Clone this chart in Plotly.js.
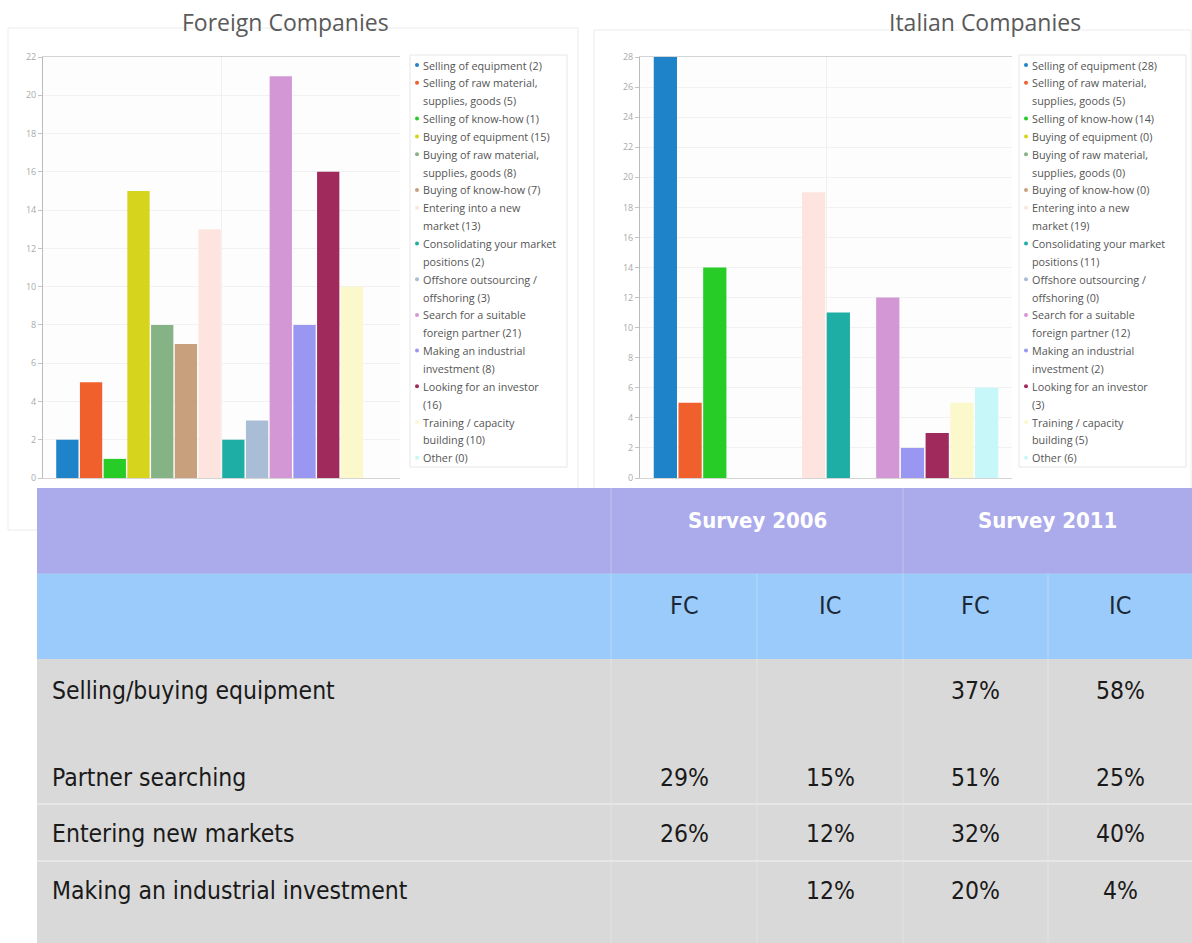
<!DOCTYPE html>
<html><head><meta charset="utf-8">
<script src="https://cdn.plot.ly/plotly-3.0.1.min.js"></script>
<style>html,body{margin:0;padding:0;background:#fff;}#chart{width:1192px;height:943px;}</style>
</head><body><div id="chart"></div>
<script>
// ---------- data ----------
const chartTitles = ['Foreign Companies', 'Italian Companies'];
const seriesLabels = [
  'Selling of equipment',
  'Selling of raw material,<br>supplies, goods',
  'Selling of know-how',
  'Buying of equipment',
  'Buying of raw material,<br>supplies, goods',
  'Buying of know-how',
  'Entering into a new<br>market',
  'Consolidating your market<br>positions',
  'Offshore outsourcing /<br>offshoring',
  'Search for a suitable<br>foreign partner',
  'Making an industrial<br>investment',
  'Looking for an investor<br>',
  'Training / capacity<br>building',
  'Other'
];
const seriesColors = ['#1f83c9','#f0602c','#27cc27','#d6d41c','#86b386','#c9a07e','#fde4df',
                      '#1eaea6','#a9bdd6','#d497d6','#9a97f2','#a02a5c','#fbf8cc','#c8f7f9'];
const foreignValues = [2, 5, 1, 15, 8, 7, 13, 2, 3, 21, 8, 16, 10, 0];
const italianValues = [28, 5, 14, 0, 0, 0, 19, 11, 0, 12, 2, 3, 5, 6];

const tableRowLabels = ['Selling/buying equipment', 'Partner searching', 'Entering new markets', 'Making an industrial investment'];
const surveyHeaders = ['Survey 2006', 'Survey 2011'];
const subHeaders = ['FC', 'IC', 'FC', 'IC'];
const fc2006 = [null, 29, 26, null];
const ic2006 = [null, 15, 12, 12];
const fc2011 = [37, 51, 32, 20];
const ic2011 = [58, 25, 40, 4];

// ---------- layout helpers ----------
const W = 1192, H = 943;
const X = p => p / W;
const Y = p => 1 - p / H;

const traces = [];
const annotations = [];
const shapes = [];

// panels
shapes.push({type:'rect', xref:'paper', yref:'paper', x0:X(8), x1:X(578), y0:Y(530), y1:Y(28),
  line:{color:'#ececec', width:1}, fillcolor:'rgba(0,0,0,0)', layer:'below'});
shapes.push({type:'rect', xref:'paper', yref:'paper', x0:X(594), x1:X(1191), y0:Y(530), y1:Y(30),
  line:{color:'#ececec', width:1}, fillcolor:'rgba(0,0,0,0)', layer:'below'});

const charts = [
  {values: foreignValues, xa:'x', ya:'y', legendLeft:410, legendRight:567, titleX:285},
  {values: italianValues, xa:'x2', ya:'y2', legendLeft:1019, legendRight:1186, titleX:985}
];

charts.forEach((c, ci) => {
  c.values.forEach((v, i) => {
    const plain = seriesLabels[i].replace('<br>', ' ').trim();
    traces.push({type:'bar', x:['all'], y:[v], xaxis:c.xa, yaxis:c.ya,
      name: plain + ' (' + v + ')', showlegend:false,
      marker:{color:seriesColors[i], line:{width:0}},
      hovertemplate: plain + ': %{y}<extra></extra>'});
  });
  // title
  annotations.push({xref:'paper', yref:'paper', x:X(c.titleX), y:Y(22), xanchor:'center', yanchor:'middle',
    text:chartTitles[ci], showarrow:false, font:{family:'Open Sans, sans-serif', size:23, color:'#5a5a5a'}});
  // legend box
  shapes.push({type:'rect', xref:'paper', yref:'paper', x0:X(c.legendLeft), x1:X(c.legendRight),
    y0:Y(467), y1:Y(55), line:{color:'#e6e6e6', width:1}, fillcolor:'#ffffff', layer:'above'});
  let line = 0;
  const step = 17.85, firstY = 65;
  c.values.forEach((v, i) => {
    const lab = seriesLabels[i];
    const full = lab.endsWith('<br>') ? lab + '(' + v + ')' : lab + ' (' + v + ')';
    const parts = full.split('<br>');
    const ly0 = firstY + line * step;
    shapes.push({type:'circle', xref:'paper', yref:'paper', x0:X(c.legendLeft+5), x1:X(c.legendLeft+9),
      y0:Y(ly0+2), y1:Y(ly0-2), fillcolor:seriesColors[i], line:{width:0}, layer:'above'});
    parts.forEach(p => {
      annotations.push({xref:'paper', yref:'paper', x:X(c.legendLeft+11), y:Y(firstY + line*step),
        xanchor:'left', yanchor:'middle', text:p, showarrow:false,
        font:{family:'Open Sans, sans-serif', size:10.8, color:'#555'}});
      line++;
    });
  });
});

// ---------- table ----------
const colEdges = [37, 611, 757, 903, 1048, 1192];
const tTop = 488, hMid = 574, hBot = 659, tBot = 943;
shapes.push({type:'rect', xref:'paper', yref:'paper', x0:X(37), x1:X(1192), y0:Y(hMid), y1:Y(tTop),
  fillcolor:'#ababeb', line:{width:0}, layer:'above'});
shapes.push({type:'rect', xref:'paper', yref:'paper', x0:X(37), x1:X(1192), y0:Y(hBot), y1:Y(hMid),
  fillcolor:'#9acbfa', line:{width:0}, layer:'above'});
shapes.push({type:'rect', xref:'paper', yref:'paper', x0:X(37), x1:X(1192), y0:Y(tBot), y1:Y(hBot),
  fillcolor:'#d9d9d9', line:{width:0}, layer:'above'});
[611, 903].forEach(x => shapes.push({type:'line', xref:'paper', yref:'paper', x0:X(x), x1:X(x), y0:Y(hMid), y1:Y(tTop),
  line:{color:'#c3c3f1', width:1}, layer:'above'}));
[611, 757, 903, 1048].forEach(x => {
  shapes.push({type:'line', xref:'paper', yref:'paper', x0:X(x), x1:X(x), y0:Y(hBot), y1:Y(hMid),
    line:{color:'#b5dafc', width:1}, layer:'above'});
  shapes.push({type:'line', xref:'paper', yref:'paper', x0:X(x), x1:X(x), y0:Y(tBot), y1:Y(hBot),
    line:{color:'#e3e3e3', width:1}, layer:'above'});
});
shapes.push({type:'line', xref:'paper', yref:'paper', x0:X(37), x1:X(1192), y0:Y(hMid), y1:Y(hMid),
  line:{color:'#a9cdf6', width:1}, layer:'above'});
const rowCenters = [690, 777, 833, 890];
const rowSeps = [804, 861];
rowSeps.forEach(y => shapes.push({type:'line', xref:'paper', yref:'paper', x0:X(37), x1:X(1192), y0:Y(y), y1:Y(y),
  line:{color:'#e6e6e6', width:2}, layer:'above'}));

const narrow = 'Liberation Sans Narrow, Arial Narrow, DejaVu Sans Condensed, sans-serif';
surveyHeaders.forEach((t, k) => {
  const cx = (colEdges[1 + 2*k] + colEdges[3 + 2*k]) / 2;
  annotations.push({xref:'paper', yref:'paper', x:X(cx), y:Y(520), xanchor:'center', yanchor:'middle',
    text:'<b>' + t + '</b>', showarrow:false, font:{family:narrow, size:22, color:'#ffffff'}});
});
subHeaders.forEach((t, k) => {
  const cx = (colEdges[1 + k] + colEdges[2 + k]) / 2;
  annotations.push({xref:'paper', yref:'paper', x:X(cx), y:Y(605), xanchor:'center', yanchor:'middle',
    text:t, showarrow:false, font:{family:narrow, size:25, color:'#1c2838'}});
});
const valueCols = [fc2006, ic2006, fc2011, ic2011];
tableRowLabels.forEach((lab, r) => {
  annotations.push({xref:'paper', yref:'paper', x:X(50), y:Y(rowCenters[r]), xanchor:'left', yanchor:'middle',
    text:lab, showarrow:false, font:{family:narrow, size:24.5, color:'#1a1a1a'}});
  valueCols.forEach((col, k) => {
    if (col[r] === null) return;
    const cx = (colEdges[1 + k] + colEdges[2 + k]) / 2;
    annotations.push({xref:'paper', yref:'paper', x:X(cx), y:Y(rowCenters[r]), xanchor:'center', yanchor:'middle',
      text:col[r] + '%', showarrow:false, font:{family:narrow, size:24.5, color:'#1a1a1a'}});
  });
});

// ---------- axes ----------
const xBase = {type:'category', showticklabels:false, ticks:'', showgrid:true, gridcolor:'#f0f0f0',
  showline:true, linecolor:'#d4d4d4', mirror:true, zeroline:false, fixedrange:true};
const yBase = {tick0:0, dtick:2, showline:true, linecolor:'#bbbbbb', ticks:'outside', ticklen:4, tickcolor:'#c4c4c4',
  tickfont:{family:'Open Sans, sans-serif', size:9, color:'#aaaaaa'}, gridcolor:'#f1f1f1', zeroline:false, fixedrange:true};

const layout = {
  width:W, height:H, margin:{l:0, r:0, t:0, b:0}, paper_bgcolor:'#ffffff', plot_bgcolor:'#fdfdfd',
  showlegend:false, barmode:'group', bargap:0.07, bargroupgap:0.06,
  xaxis:Object.assign({}, xBase, {domain:[X(43), X(400)], anchor:'y'}),
  yaxis:Object.assign({}, yBase, {domain:[Y(478), Y(57)], range:[0, 22], anchor:'x'}),
  xaxis2:Object.assign({}, xBase, {domain:[X(640), X(1012)], anchor:'y2'}),
  yaxis2:Object.assign({}, yBase, {domain:[Y(478), Y(57)], range:[0, 28], anchor:'x2'}),
  shapes:shapes, annotations:annotations
};
Plotly.newPlot('chart', traces, layout, {displayModeBar:false, responsive:false});
</script></body></html>
